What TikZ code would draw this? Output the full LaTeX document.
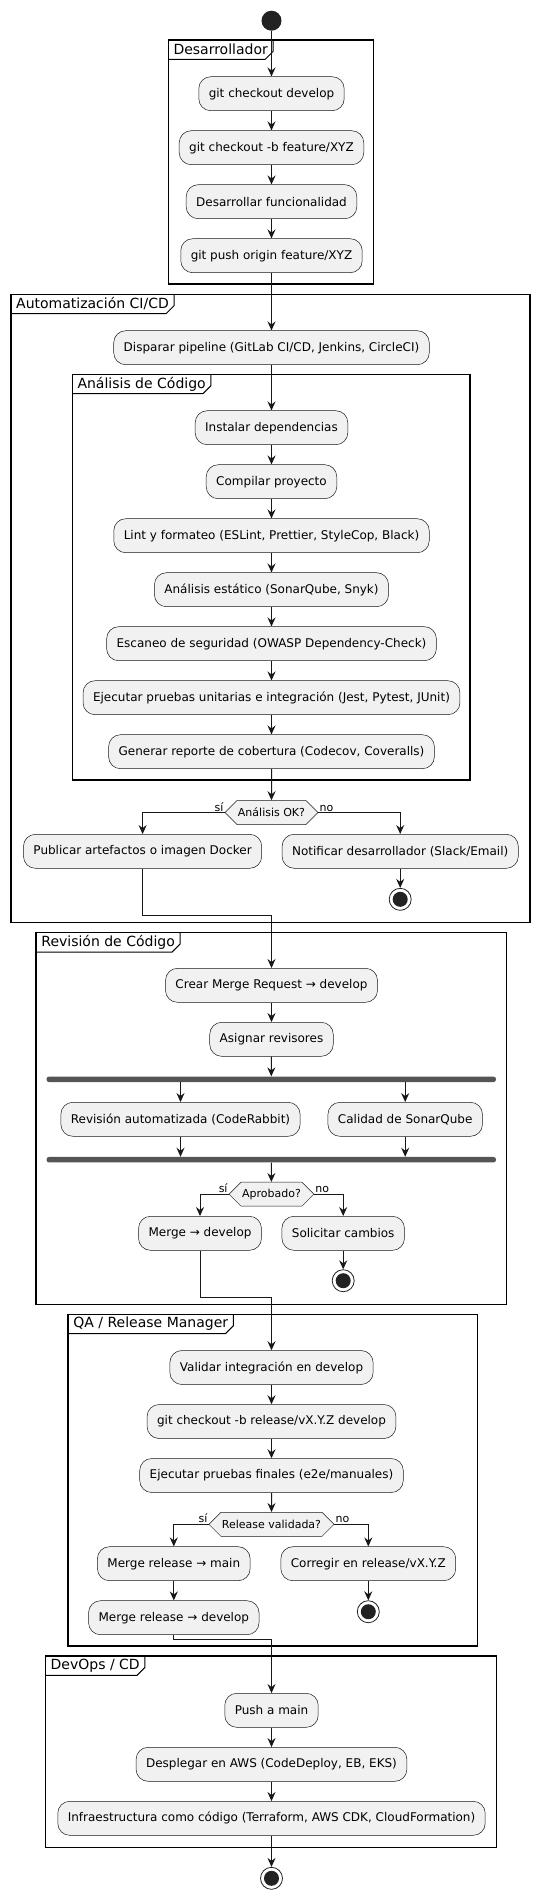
\documentclass[tikz,border=0pt]{standalone}
\usepackage{fontspec}
\setmainfont{DejaVu Sans}
\usetikzlibrary{arrows.meta,shapes.symbols,calc}
\definecolor{boxfill}{HTML}{F1F1F1}
\definecolor{ink}{HTML}{181818}
\definecolor{dark}{HTML}{222222}
\definecolor{barc}{HTML}{555555}
\newcommand{\umlframe}[6]{%
  \draw[frm] (#2,#3) rectangle (#4,#5);
  \node[ftitle] (#1) at (#2,#3) {#6};
  \draw[line width=1pt] (#1.north east) -- ($(#1.south east)+(0pt,8pt)$) -- ($(#1.south east)+(-8pt,0pt)$) -- (#1.south west);
}
\begin{document}
\begin{tikzpicture}[x=1pt,y=-1pt,
  act/.style={draw=ink, line width=0.5pt, fill=boxfill, rounded corners=12pt, minimum height=34pt, inner xsep=10pt, inner ysep=0pt, font=\fontsize{12}{14}\selectfont},
  dec/.style={draw=ink, line width=0.5pt, fill=boxfill, signal, signal to=west and east, signal pointer angle=90, minimum height=24pt, inner xsep=1pt, inner ysep=0pt, font=\fontsize{11}{13}\selectfont},
  lbl/.style={font=\fontsize{11}{13}\selectfont, inner sep=1pt},
  arr/.style={draw=ink, line width=1pt, -{Stealth[length=9pt,width=8pt,inset=3pt]}},
  frm/.style={draw=black, line width=1.5pt},
  ftitle/.style={font=\fontsize{14}{16}\selectfont, inner xsep=5pt, inner ysep=0pt, minimum height=19pt, anchor=north west},
  bar/.style={fill=barc, rounded corners=2.5pt, minimum height=5.5pt, inner sep=0pt},
  startn/.style={circle, fill=dark, minimum size=20pt, inner sep=0pt},
  stopn/.style={circle, draw=dark, line width=0.8pt, fill=white, minimum size=22pt, inner sep=0pt, path picture={\fill[dark] (path picture bounding box.center) circle (7.5pt);}},
]
\useasboundingbox (0,0) rectangle (540,1899);
\def\cx{271.5}

\node[startn] (start) at (\cx,20.7) {};
\umlframe{fd}{168.3}{40}{373.3}{284}{Desarrollador}
\node[act] (d1) at (\cx,93.7) {git checkout develop};
\node[act] (d2) at (\cx,147.7) {git checkout -b feature/XYZ};
\node[act] (d3) at (\cx,201.7) {Desarrollar funcionalidad};
\node[act] (d4) at (\cx,255.7) {git push origin feature/XYZ};

\umlframe{fa}{11}{294.3}{530}{922.7}{Automatización CI/CD}
\node[act] (c1) at (\cx,347.7) {Disparar pipeline (GitLab CI/CD, Jenkins, CircleCI)};
\umlframe{fb}{72.3}{374.3}{470}{780}{Análisis de Código}
\node[act] (a1) at (\cx,427.7) {Instalar dependencias};
\node[act] (a2) at (\cx,481.7) {Compilar proyecto};
\node[act] (a3) at (\cx,535.7) {Lint y formateo (ESLint, Prettier, StyleCop, Black)};
\node[act] (a4) at (\cx,589.7) {Análisis estático (SonarQube, Snyk)};
\node[act] (a5) at (\cx,643.7) {Escaneo de seguridad (OWASP Dependency-Check)};
\node[act] (a6) at (\cx,697.7) {Ejecutar pruebas unitarias e integración (Jest, Pytest, JUnit)};
\node[act] (a7) at (\cx,751.7) {Generar reporte de cobertura (Codecov, Coveralls)};
\node[dec] (k1) at (\cx,812.5) {Análisis OK?};
\node[act] (pub) at (142.6,851.3) {Publicar artefactos o imagen Docker};
\node[act] (noti) at (400.2,851.3) {Notificar desarrollador (Slack/Email)};
\node[stopn] (s1) at (400.2,899.3) {};
\node[lbl, anchor=south east] at (k1.west) {sí};
\node[lbl, anchor=south west] at (k1.east) {no};

\umlframe{fr}{36.2}{932.7}{506.3}{1304.3}{Revisión de Código}
\node[act] (r1) at (\cx,985.3) {Crear Merge Request → develop};
\node[act] (r2) at (\cx,1039.3) {Asignar revisores};
\node[bar, minimum width=449.5pt] (fork) at (271.25,1079.3) {};
\node[act] (r3) at (180.5,1119.3) {Revisión automatizada (CodeRabbit)};
\node[act] (r4) at (405.2,1119.3) {Calidad de SonarQube};
\node[bar, minimum width=449.5pt] (join) at (271.25,1159.7) {};
\node[dec] (k2) at (\cx,1194.2) {Aprobado?};
\node[act] (mdev) at (200,1233.3) {Merge → develop};
\node[act] (sol) at (343.2,1233.3) {Solicitar cambios};
\node[stopn] (s2) at (343.2,1280.7) {};
\node[lbl, anchor=south east] at (k2.west) {sí};
\node[lbl, anchor=south west] at (k2.east) {no};

\umlframe{fq}{68.2}{1314.3}{477.5}{1646}{QA / Release Manager}
\node[act] (q1) at (\cx,1367.5) {Validar integración en develop};
\node[act] (q2) at (\cx,1421.5) {git checkout -b release/vX.Y.Z develop};
\node[act] (q3) at (\cx,1475.5) {Ejecutar pruebas finales (e2e/manuales)};
\node[dec] (k3) at (\cx,1524.3) {Release validada?};
\node[act] (q4) at (173.8,1563.7) {Merge release → main};
\node[act] (corr) at (368.3,1563.7) {Corregir en release/vX.Y.Z};
\node[act] (q5) at (173.8,1617.7) {Merge release → develop};
\node[stopn] (s3) at (368.3,1611.7) {};
\node[lbl, anchor=south east] at (k3.west) {sí};
\node[lbl, anchor=south west] at (k3.east) {no};

\umlframe{fo}{45.5}{1656}{496.6}{1847.3}{DevOps / CD}
\node[act] (o1) at (\cx,1710.3) {Push a main};
\node[act] (o2) at (\cx,1764.3) {Desplegar en AWS (CodeDeploy, EB, EKS)};
\node[act] (o3) at (\cx,1818.3) {Infraestructura como código (Terraform, AWS CDK, CloudFormation)};
\node[stopn] (end) at (\cx,1878.3) {};

\coordinate (e1) at (\cx,915);
\coordinate (e2) at (\cx,1297.7);
\coordinate (e3) at (\cx,1639.3);

\draw[arr] (start) -- (d1);
\draw[arr] (d1) -- (d2);
\draw[arr] (d2) -- (d3);
\draw[arr] (d3) -- (d4);
\draw[arr] (d4) -- (c1);
\draw[arr] (c1) -- (a1);
\draw[arr] (a1) -- (a2);
\draw[arr] (a2) -- (a3);
\draw[arr] (a3) -- (a4);
\draw[arr] (a4) -- (a5);
\draw[arr] (a5) -- (a6);
\draw[arr] (a6) -- (a7);
\draw[arr] (a7) -- (k1);
\draw[arr] (k1.west) -| (pub.north);
\draw[arr] (k1.east) -| (noti.north);
\draw[arr] (noti) -- (s1);
\draw[arr] (pub.south) |- (e1) -- (r1.north);
\draw[arr] (r1) -- (r2);
\draw[arr] (r2) -- (fork);
\draw[arr] (fork.south -| r3.north) -- (r3.north);
\draw[arr] (fork.south -| r4.north) -- (r4.north);
\draw[arr] (r3.south) -- (r3.south |- join.north);
\draw[arr] (r4.south) -- (r4.south |- join.north);
\draw[arr] (join) -- (k2);
\draw[arr] (k2.west) -| (mdev.north);
\draw[arr] (k2.east) -| (sol.north);
\draw[arr] (sol) -- (s2);
\draw[arr] (mdev.south) |- (e2) -- (q1.north);
\draw[arr] (q1) -- (q2);
\draw[arr] (q2) -- (q3);
\draw[arr] (q3) -- (k3);
\draw[arr] (k3.west) -| (q4.north);
\draw[arr] (k3.east) -| (corr.north);
\draw[arr] (q4) -- (q5);
\draw[arr] (corr) -- (s3);
\draw[arr] (q5.south) |- (e3) -- (o1.north);
\draw[arr] (o1) -- (o2);
\draw[arr] (o2) -- (o3);
\draw[arr] (o3) -- (end);
\end{tikzpicture}
\end{document}
